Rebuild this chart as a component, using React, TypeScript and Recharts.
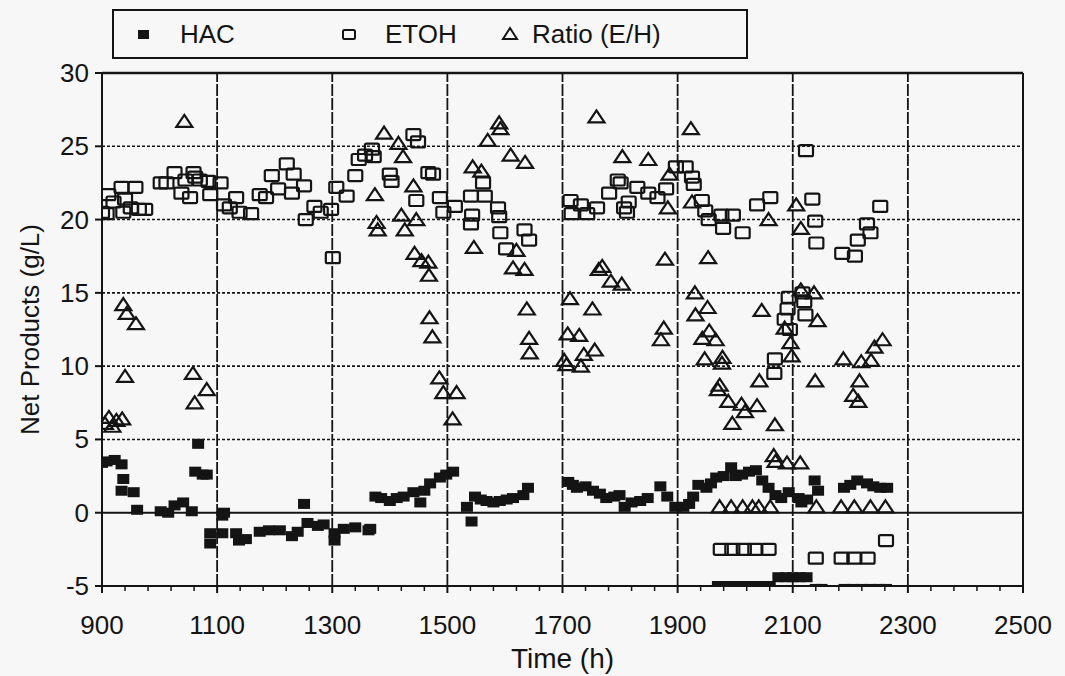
import React from 'react';
import { ScatterChart, Scatter, XAxis, YAxis, ReferenceLine, Legend } from 'recharts';

const xMajorTicks = [900, 1100, 1300, 1500, 1700, 1900, 2100, 2300, 2500];
const xAllTicks = [900, 940, 980, 1020, 1060, 1100, 1140, 1180, 1220, 1260, 1300, 1340, 1380, 1420, 1460, 1500, 1540, 1580, 1620, 1660, 1700, 1740, 1780, 1820, 1860, 1900, 1940, 1980, 2020, 2060, 2100, 2140, 2180, 2220, 2260, 2300, 2340, 2380, 2420, 2460, 2500];
const yTicks = [-5, 0, 5, 10, 15, 20, 25, 30];
const xGridLines = [1100, 1300, 1500, 1700, 1900, 2100, 2300];
const yDashedLines = [5, 10, 15, 20, 25];

const hacData: [number, number][] = [
  [900, 3.4], [908, 3.5], [922, 3.6], [934, 3.3], [937, 2.3], [934, 1.5], [955, 1.4], [961, 0.2],
  [1002, 0.1], [1015, 0.0], [1026, 0.5], [1041, 0.7], [1056, 0.1], [1062, 2.8], [1067, 4.7], [1075, 2.6], [1082, 2.6],
  [1088, -1.4], [1088, -2.1], [1109, -1.4], [1109, -0.2], [1112, 0.0], [1133, -1.4], [1138, -1.9], [1150, -1.8],
  [1174, -1.3], [1190, -1.2], [1209, -1.2], [1230, -1.6], [1240, -1.3], [1251, 0.6], [1257, -0.7], [1275, -0.9],
  [1285, -0.8], [1304, -1.4], [1304, -1.9], [1320, -1.1], [1340, -1.0], [1363, -1.2], [1366, -1.1], [1375, 1.1],
  [1385, 1.0], [1400, 0.8], [1412, 1.0], [1424, 1.1], [1441, 1.4], [1453, 0.7], [1460, 1.5], [1470, 2.0], [1487, 2.4],
  [1498, 2.6], [1510, 2.8], [1534, 0.4], [1542, -0.6], [1548, 1.1], [1558, 0.9], [1568, 0.8], [1580, 0.7], [1591, 0.8],
  [1603, 0.9], [1614, 1.0], [1632, 1.2], [1640, 1.7], [1710, 2.1], [1718, 1.9], [1725, 1.7], [1740, 1.8], [1753, 1.5],
  [1765, 1.3], [1776, 1.0], [1790, 1.1], [1799, 1.2], [1808, 0.4], [1820, 0.7], [1835, 0.8], [1848, 1.0], [1870, 1.8],
  [1882, 1.1], [1896, 0.4], [1910, 0.4], [1920, 0.6], [1927, 1.1], [1936, 1.9], [1950, 1.7], [1958, 2.0], [1967, 2.4],
  [1980, 2.5], [1993, 3.1], [2001, 2.5], [2012, 2.6], [2024, 2.8], [2036, 2.9], [2047, 2.2], [2058, 1.7], [2070, 1.2],
  [2080, 1.0], [2093, 1.4], [2110, 1.0], [2115, 0.7], [2125, 0.9], [2138, 2.2], [2144, 1.5], [2189, 1.7], [2200, 1.9],
  [2212, 2.2], [2229, 2.0], [2240, 1.8], [2252, 1.7], [2264, 1.7],
  [1970, -5.0], [1985, -5.0], [2000, -5.0], [2015, -5.0], [2030, -5.0], [2045, -5.0], [2060, -5.0],
  [2075, -4.4], [2088, -4.4], [2100, -4.4], [2112, -4.4], [2124, -4.4],
  [2140, -5.2], [2150, -5.2], [2190, -5.2], [2205, -5.2], [2220, -5.2], [2235, -5.2], [2250, -5.2], [2262, -5.2],
];

const etohData: [number, number][] = [
  [900, 20.5], [908, 20.4], [911, 21.7], [920, 21.2], [934, 22.2], [937, 20.5], [940, 21.4], [950, 20.8], [958, 22.2],
  [964, 20.7], [975, 20.7], [1002, 22.5], [1012, 22.5], [1026, 23.2], [1038, 21.8], [1045, 22.7], [1053, 21.5],
  [1059, 23.2], [1062, 22.9], [1070, 22.7], [1085, 22.6], [1088, 21.7], [1106, 22.5], [1112, 21.0], [1122, 20.8],
  [1133, 21.5], [1139, 20.5], [1159, 20.4], [1174, 21.7], [1185, 21.5], [1195, 23.0], [1206, 22.1], [1221, 23.8],
  [1230, 21.8], [1233, 23.1], [1251, 22.3], [1254, 20.0], [1269, 20.9], [1280, 20.5], [1298, 20.7], [1301, 17.4],
  [1307, 22.2], [1325, 21.6], [1340, 23.0], [1346, 24.1], [1357, 24.4], [1369, 24.8], [1372, 24.3], [1400, 23.1],
  [1403, 22.6], [1441, 25.8], [1449, 25.3], [1446, 21.3], [1467, 23.2], [1475, 23.1], [1487, 21.5], [1493, 20.5],
  [1513, 20.9], [1541, 21.6], [1543, 20.3], [1541, 19.7], [1562, 22.5], [1565, 21.6], [1588, 20.8], [1590, 20.2],
  [1592, 19.1], [1602, 18.0], [1634, 19.3], [1642, 18.6], [1714, 21.3], [1716, 20.4], [1732, 21.0], [1743, 20.4],
  [1760, 20.8], [1781, 21.8], [1796, 22.7], [1801, 22.5], [1807, 20.8], [1815, 21.2], [1812, 20.5], [1830, 22.2],
  [1849, 21.8], [1865, 21.5], [1880, 22.1], [1897, 23.6], [1914, 23.6], [1925, 22.9], [1928, 22.4], [1942, 21.3],
  [1948, 20.6], [1954, 20.0], [1976, 20.3], [1979, 19.4], [1996, 20.3], [2013, 19.1], [2038, 21.0], [2061, 21.5],
  [2068, 9.5], [2069, 10.5], [2086, 13.2], [2095, 12.5], [2091, 13.9], [2093, 14.7], [2117, 15.0], [2120, 14.4],
  [2122, 13.5], [2123, 24.7], [2134, 21.4], [2139, 19.9], [2141, 18.4], [2186, 17.7], [2208, 17.5], [2213, 18.6],
  [2229, 19.7], [2235, 19.1], [2252, 20.9],
  [1975, -2.5], [1995, -2.5], [2015, -2.5], [2035, -2.5], [2058, -2.5],
  [2140, -3.1], [2185, -3.1], [2207, -3.1], [2230, -3.1], [2262, -1.9],
];

const ratioData: [number, number][] = [
  [905, 6.1], [912, 6.5], [918, 5.9], [925, 6.3], [935, 6.4], [937, 14.2], [943, 13.6], [959, 12.9], [940, 9.3],
  [1043, 26.7], [1058, 9.5], [1061, 7.5], [1082, 8.4],
  [1374, 21.7], [1377, 19.8], [1379, 19.3], [1390, 25.9], [1415, 25.2], [1420, 20.3], [1423, 24.3], [1426, 19.3],
  [1441, 22.3], [1443, 17.7], [1446, 20.0], [1455, 17.2], [1467, 17.1], [1468, 16.2], [1469, 13.3], [1474, 12.0],
  [1486, 9.2], [1493, 8.2], [1509, 6.4], [1516, 8.2],
  [1544, 23.6], [1546, 18.1], [1559, 23.3], [1570, 25.4], [1590, 26.6], [1592, 26.2], [1610, 24.4], [1614, 16.7],
  [1620, 17.9], [1634, 16.6], [1635, 23.9], [1638, 13.9], [1642, 11.9], [1643, 10.9],
  [1703, 10.4], [1707, 10.1], [1709, 12.2], [1713, 14.6], [1729, 12.1], [1732, 10.0], [1737, 10.8], [1752, 13.9],
  [1756, 11.1], [1759, 27.0], [1763, 16.6], [1769, 16.8], [1784, 15.8], [1803, 15.6], [1804, 24.3], [1849, 24.1],
  [1871, 11.8], [1876, 12.6], [1878, 17.3], [1883, 20.8], [1886, 23.1], [1923, 26.2], [1925, 21.2], [1930, 15.0],
  [1931, 13.5], [1943, 11.9], [1947, 10.5], [1952, 14.0], [1953, 17.4], [1955, 12.4], [1966, 11.8], [1970, 8.4],
  [1973, 8.7], [1977, 10.2], [1978, 10.6], [1988, 7.6], [1995, 6.1], [2011, 7.4], [2017, 6.9], [2038, 7.3],
  [2042, 9.0], [2046, 13.8], [2058, 20.0], [2067, 3.9], [2069, 6.0], [2070, 3.5], [2086, 12.6], [2090, 3.4],
  [2096, 11.6], [2098, 10.7], [2106, 21.0], [2113, 3.4], [2114, 19.4], [2114, 15.2], [2137, 15.0], [2139, 9.0],
  [2143, 13.1], [2188, 10.5], [2205, 8.0], [2214, 7.6], [2216, 9.0], [2219, 10.3], [2236, 10.4], [2242, 11.3],
  [2256, 11.8],
  [1973, 0.4], [1993, 0.4], [2013, 0.4], [2030, 0.4], [2041, 0.4], [2061, 0.4], [2141, 0.4], [2184, 0.4],
  [2207, 0.4], [2235, 0.4], [2261, 0.4],
];

const seriesNames = ['HAC', 'ETOH', 'Ratio (E/H)'];
const xTitle = 'Time (h)';
const yTitle = 'Net Products (g/L)';

const INK = '#141414';
const FONT = '"Liberation Sans", Arial, sans-serif';

const toPoints = (arr: [number, number][]) => arr.map(([x, y]) => ({ x, y }));

const HacShape = (p: any) => (
  <rect x={p.cx - 6} y={p.cy - 5} width={12} height={10} fill={INK} />
);
const EtohShape = (p: any) => (
  <rect x={p.cx - 7} y={p.cy - 5.5} width={14} height={11} rx={1.5} fill="none" stroke={INK} strokeWidth={2.2} />
);
const RatioShape = (p: any) => (
  <path d={`M${p.cx},${p.cy - 6.5} L${p.cx + 8},${p.cy + 5.5} L${p.cx - 8},${p.cy + 5.5} Z`} fill="none" stroke={INK} strokeWidth={2.2} strokeLinejoin="miter" />
);

const XTick = (props: any) => {
  const { x, y, payload } = props;
  const v = payload.value;
  const major = xMajorTicks.includes(v);
  return (
    <g>
      <line x1={x} x2={x} y1={y} y2={y + (major ? 7 : 5)} stroke={INK} strokeWidth={major ? 2 : 1.5} />
      {major && (
        <text x={x} y={y + 48} textAnchor="middle" fontSize={26} fill={INK} fontFamily={FONT}>{v}</text>
      )}
    </g>
  );
};

const YTick = (props: any) => {
  const { x, y, payload } = props;
  return (
    <g>
      <line x1={x - 7} x2={x} y1={y} y2={y} stroke={INK} strokeWidth={2} />
      <text x={x - 13} y={y + 9} textAnchor="end" fontSize={26} fill={INK} fontFamily={FONT}>{payload.value}</text>
    </g>
  );
};

const LegendBox = () => (
  <svg width={636} height={50} style={{ display: 'block' }}>
    <rect x={1} y={1} width={634} height={48} fill="none" stroke={INK} strokeWidth={2} />
    <rect x={26} y={21} width={11} height={9} fill={INK} />
    <text x={68} y={34} fontSize={26} fill={INK} fontFamily={FONT}>{seriesNames[0]}</text>
    <rect x={231} y={21} width={12} height={9} rx={1.5} fill="none" stroke={INK} strokeWidth={2} />
    <text x={273} y={34} fontSize={26} fill={INK} fontFamily={FONT}>{seriesNames[1]}</text>
    <path d="M398,19 L405,30 L391,30 Z" fill="none" stroke={INK} strokeWidth={2} />
    <text x={420} y={34} fontSize={26} fill={INK} fontFamily={FONT}>{seriesNames[2]}</text>
  </svg>
);

export default function App() {
  return (
    <div style={{ position: 'absolute', left: 0, top: 0, width: 1065, height: 676, background: '#f7f7f7' }}>
      <ScatterChart width={1065} height={676} margin={{ top: 73, right: 42, bottom: 0, left: 42 }}>
        <XAxis
          type="number"
          dataKey="x"
          domain={[900, 2500]}
          ticks={xAllTicks}
          interval={0}
          allowDataOverflow
          height={90}
          tickSize={0}
          tickMargin={0}
          tickLine={false}
          tick={<XTick />}
          axisLine={{ stroke: INK, strokeWidth: 2 }}
          label={{ value: xTitle, position: 'insideBottom', offset: 8, style: { fontSize: 28, fill: INK, fontFamily: FONT } }}
        />
        <YAxis
          type="number"
          dataKey="y"
          domain={[-5, 30]}
          ticks={yTicks}
          interval={0}
          allowDataOverflow
          width={60}
          tickSize={0}
          tickMargin={0}
          tickLine={false}
          tick={<YTick />}
          axisLine={{ stroke: INK, strokeWidth: 2 }}
          label={{ value: yTitle, angle: -90, position: 'center', dx: -42, style: { fontSize: 26, fill: INK, fontFamily: FONT, textAnchor: 'middle' } }}
        />
        {xGridLines.map((v) => (
          <ReferenceLine key={'vx' + v} x={v} stroke={INK} strokeWidth={1.8} strokeDasharray="12 2" />
        ))}
        {yDashedLines.map((v) => (
          <ReferenceLine key={'hy' + v} y={v} stroke={INK} strokeWidth={1.6} strokeDasharray="3 2" />
        ))}
        <ReferenceLine y={0} stroke={INK} strokeWidth={2} />
        <ReferenceLine y={30} stroke={INK} strokeWidth={2.5} />
        <ReferenceLine x={2500} stroke={INK} strokeWidth={2} />
        <Legend
          layout="vertical"
          align="center"
          verticalAlign="middle"
          content={<LegendBox />}
          wrapperStyle={{ top: 9, left: 112, width: 636, height: 50 }}
        />
        <Scatter name={seriesNames[0]} data={toPoints(hacData)} shape={HacShape} isAnimationActive={false} />
        <Scatter name={seriesNames[1]} data={toPoints(etohData)} shape={EtohShape} isAnimationActive={false} />
        <Scatter name={seriesNames[2]} data={toPoints(ratioData)} shape={RatioShape} isAnimationActive={false} />
      </ScatterChart>
    </div>
  );
}
